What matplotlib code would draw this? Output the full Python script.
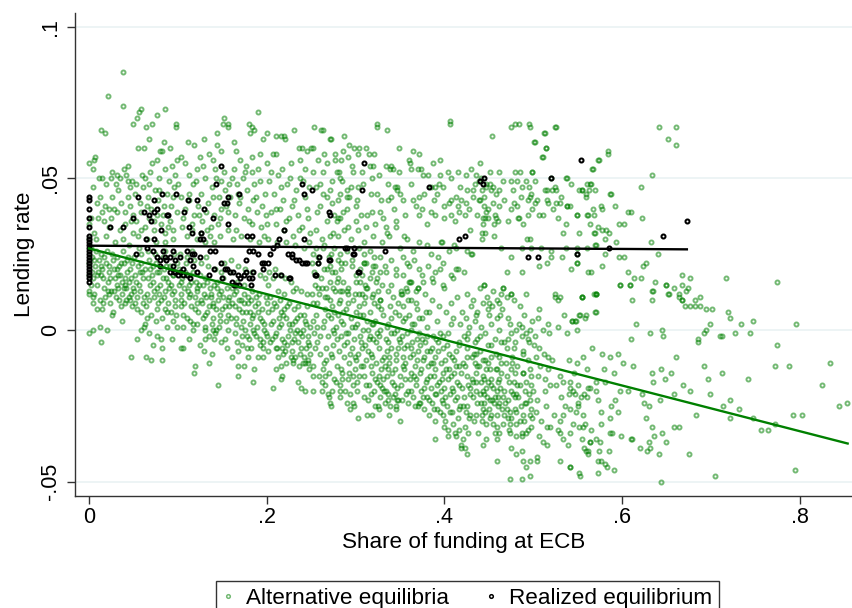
import matplotlib
matplotlib.use("Agg")
import matplotlib.pyplot as plt
from matplotlib.lines import Line2D

plt.rcParams['font.family'] = ['Liberation Sans', 'DejaVu Sans']

# values, in thousandths: (share of funding at ECB, lending rate)
alt_left = [
    (38, 85), (21, 77), (38, 74), (14, 66), (18, 65), (49, 68), (0, 55), (6, 56), (7, 57), (11, 50), (19, 48),
    (26, 52), (25, 50), (39, 53), (44, 54), (35, 50), (44, 49), (48, 49), (46, 47), (15, 50), (31, 51), (4, 53),
    (18, 41), (28, 40), (10, 37), (2, 37), (15, 39), (26, 44), (25, 37), (22, 34), (6, 32), (31, 39), (41, 39),
    (46, 41), (44, 44), (49, 38), (40, 35), (49, 32), (35, 33), (12, 44), (33, 46), (8, 30), (19, 31), (29, 29),
    (38, 30), (45, 28),
    (3, 24), (7, 21), (11, 23), (15, 20), (19, 22), (23, 19), (27, 23), (31, 20), (35, 18), (39, 22), (43, 19),
    (47, 17), (5, 17), (9, 15), (13, 18), (17, 14), (21, 16), (25, 13), (29, 17), (33, 14), (37, 12), (41, 15),
    (45, 11), (49, 14), (2, 27), (8, 26), (14, 25), (20, 26), (26, 25), (32, 24), (38, 26), (44, 24), (48, 22),
    (6, 12), (12, 10), (18, 11), (24, 9), (30, 11), (36, 8), (42, 10), (48, 8), (10, 19), (22, 21), (34, 21),
    (46, 20), (16, 17), (28, 13), (40, 17),
    (0, 13), (0, 12), (4, 9), (15, 7), (0, -1), (5, 0), (12, 1), (20, 0), (14, -4), (34, 10), (41, 9), (46, 10),
    (26, 5), (37, 3), (0, 22), (0, 30), (0, 35), (0, 18),
    # 0.05 - 0.10
    (58, 73), (56, 72), (86, 73), (54, 70), (64, 67), (71, 68), (76, 71), (98, 67), (98, 68), (55, 60), (62, 60),
    (63, 50), (71, 55), (76, 56), (80, 59), (82, 59), (86, 53), (93, 54), (99, 56),
    (52, 45), (57, 42), (61, 47), (66, 44), (70, 40), (74, 46), (78, 43), (83, 38), (88, 45), (92, 41), (96, 47),
    (53, 36), (58, 39), (63, 34), (68, 37), (73, 33), (77, 38), (81, 35), (86, 32), (91, 36), (95, 33), (99, 39),
    (55, 31), (65, 30), (75, 29), (85, 29), (94, 30), (60, 51), (68, 48), (79, 50), (90, 49), (97, 51), (84, 62),
    (67, 63), (91, 60),
    (51, 24), (55, 21), (59, 25), (63, 20), (67, 23), (71, 18), (75, 22), (79, 19), (83, 24), (87, 17), (91, 21),
    (95, 18), (99, 22), (53, 16), (57, 13), (61, 17), (65, 12), (69, 15), (73, 11), (77, 14), (81, 10), (85, 13),
    (89, 9), (93, 12), (97, 8), (52, 9), (58, 6), (64, 8), (70, 5), (76, 7), (82, 4), (88, 6), (94, 3), (98, 5),
    (56, 27), (66, 26), (74, 25), (86, 26), (96, 25), (60, 19), (72, 16), (84, 20), (92, 15), (54, 11), (78, 9),
    (54, -3), (47, -9), (64, -9), (70, -10), (82, -10), (63, 2), (62, 1), (68, -1), (76, -2), (81, -3), (93, -3),
    (82, -6), (58, 0), (88, 1), (72, -5),
    # 0.10 - 0.15
    (152, 70), (151, 68), (144, 65), (144, 61), (148, 59), (108, 55), (118, 61), (104, 57), (112, 51), (117, 48),
    (121, 53), (126, 45), (130, 50), (134, 42), (138, 47), (142, 53), (146, 44), (149, 49), (103, 44), (108, 40),
    (113, 43), (118, 38), (123, 41), (127, 36), (132, 39), (137, 34), (141, 38), (145, 35), (149, 40), (105, 34),
    (110, 31), (116, 33), (121, 30), (126, 32), (131, 29), (136, 31), (141, 29), (147, 31), (111, 62), (125, 57),
    (135, 58), (129, 63), (140, 56),
    (101, 20), (105, 17), (109, 22), (113, 15), (117, 19), (121, 14), (125, 18), (129, 12), (133, 16), (137, 11),
    (141, 15), (145, 10), (149, 13), (103, 12), (107, 9), (111, 13), (115, 8), (119, 11), (123, 6), (127, 9),
    (131, 5), (135, 8), (139, 4), (143, 7), (147, 3), (102, 25), (110, 24), (118, 23), (126, 22), (134, 21),
    (142, 20), (148, 19), (106, 5), (114, 3), (122, 2), (130, 1), (138, 2), (146, 1), (104, 16), (112, 18),
    (120, 16), (128, 15), (136, 14), (144, 16), (116, 26), (132, 24),
    (104, -6), (106, -6), (106, 1), (117, 0), (131, 0), (119, -12), (118, -14), (129, -7), (131, -3), (135, -11),
    (145, -18), (140, 0), (142, -1), (141, -3), (149, -4), (112, -3), (125, -5), (138, -8),
    # 0.15 - 0.20
    (157, 68), (156, 67), (180, 68), (184, 67), (190, 72), (186, 66), (177, 54), (183, 57), (166, 59), (181, 65),
    (196, 63), (200, 65), (163, 62), (170, 56), (192, 58),
    (152, 52), (158, 48), (163, 53), (168, 45), (173, 50), (178, 46), (183, 52), (188, 44), (193, 49), (198, 45),
    (154, 41), (159, 44), (164, 38), (169, 42), (174, 37), (179, 40), (184, 35), (189, 39), (194, 34), (199, 38),
    (156, 33), (162, 30), (171, 31), (181, 30), (191, 29), (197, 31), (167, 48), (186, 48),
    (151, 17), (155, 14), (159, 19), (163, 12), (167, 16), (171, 10), (175, 15), (179, 9), (183, 13), (187, 8),
    (191, 12), (195, 7), (199, 11), (153, 8), (157, 5), (161, 9), (165, 4), (169, 7), (173, 3), (177, 6),
    (181, 2), (185, 5), (189, 1), (193, 4), (197, 0), (152, 22), (160, 23), (168, 21), (176, 20), (184, 19),
    (192, 18), (198, 17), (156, 0), (164, -1), (172, -2), (180, -3), (188, -2), (196, -4), (158, 11), (166, 13),
    (174, 12), (182, 10), (190, 9),
    (161, -9), (168, -7), (168, -12), (168, -15), (185, -17), (179, -9), (190, -9), (196, -9), (172, -5),
    (178, -6), (182, -6), (196, -6), (155, -6), (175, -12), (186, -13),
    # 0.20 - 0.25
    (211, 64), (231, 66), (220, 64), (207, 58), (211, 58), (216, 64), (221, 63), (236, 60), (240, 60), (245, 59),
    (250, 60), (200, 55), (227, 55), (243, 53), (253, 67), (263, 66), (261, 66),
    (203, 49), (208, 45), (213, 51), (218, 43), (223, 48), (228, 41), (233, 46), (238, 50), (243, 44), (248, 47),
    (205, 39), (210, 35), (215, 40), (220, 33), (225, 37), (230, 31), (235, 38), (240, 34), (245, 40), (249, 32),
    (202, 30), (212, 29), (222, 29), (232, 28), (242, 27), (248, 29), (217, 53), (237, 56),
    (201, 15), (204, 11), (207, 17), (210, 8), (213, 13), (216, 6), (219, 12), (222, 4), (225, 9), (228, 2),
    (231, 7), (234, 0), (237, 5), (240, -2), (243, 3), (246, -4), (249, 1), (202, 6), (205, 2), (208, 9),
    (211, -1), (214, 4), (217, -3), (220, 7), (223, -5), (226, 0), (229, -7), (232, 3), (235, -4), (238, -8),
    (241, 0), (244, -6), (247, -10), (203, 19), (209, 20), (215, 18), (221, 17), (227, 16), (233, 14), (239, 13),
    (245, 12), (206, -3), (212, -6), (218, -8), (224, -2), (230, -10), (236, -12), (242, -9), (248, -13),
    (200, -2), (215, 10), (230, 13), (245, 8),
    (207, -19), (211, -13), (216, -12), (217, -15), (216, -16), (222, -11), (230, -11), (232, -9), (235, -17),
    (239, -19), (243, -20), (243, -11), (246, -11), (217, -6),
]

alt_left_extra = [
    (3, 19), (6, 23), (9, 18), (13, 21), (17, 24), (21, 13), (24, 17), (28, 20), (31, 15), (36, 22), (39, 14),
    (43, 23), (47, 12), (52, 18), (56, 15), (59, 22), (62, 11), (66, 17), (69, 20), (73, 13), (76, 19), (80, 15),
    (84, 11), (87, 21), (90, 14), (94, 18), (97, 10), (101, 15), (104, 8), (108, 19), (112, 11), (115, 16),
    (119, 7), (122, 13), (126, 10), (130, 17), (133, 6), (137, 12), (140, 9), (144, 14), (147, 5), (151, 11),
    (154, 3), (158, 8), (161, 14), (165, 2), (169, 10), (172, 6), (176, 0), (179, 11), (183, 4), (186, -1),
    (190, 6), (193, -3), (197, 2), (200, 9), (204, -4), (207, 3), (211, -6), (214, 1), (218, 5), (221, -7),
    (225, 2), (228, -4), (232, -1), (235, 8), (239, -6), (242, 5), (246, -2), (249, -8),
    (2, 15), (5, 11), (9, 7), (16, 9), (23, 12), (27, 6), (33, 18), (37, 16), (42, 14), (45, 16), (51, 13),
    (54, 7), (57, 19), (61, 9), (65, 4), (68, 10), (72, 21), (75, 3), (79, 12), (83, 17), (86, 7), (89, 16),
    (92, 6), (96, 13), (99, 1), (103, 10), (107, 14), (110, 4), (114, 12), (117, 2), (121, 9), (124, 15),
    (128, 4), (132, 11), (135, -2), (139, 8), (143, 0), (146, 12), (150, 7), (153, -3), (157, 10), (160, 4),
    (164, 8), (167, -4), (171, 1), (174, 9), (178, -2), (181, 6), (185, 0), (188, 11), (192, -5), (195, 3),
    (199, -1), (202, -7), (206, 7), (209, -2), (213, -9), (216, 2), (220, -4), (223, 8), (227, -9), (231, -3),
    (234, 4), (238, -1), (241, -11), (244, 2), (248, -5),
    (5, 47), (9, 42), (17, 36), (23, 40), (30, 48), (36, 42), (42, 51), (47, 36), (53, 48), (59, 33), (65, 41),
    (69, 52), (73, 36), (79, 46), (84, 41), (89, 34), (95, 44), (100, 48), (106, 37), (112, 45), (116, 35),
    (120, 49), (124, 38), (128, 54), (133, 33), (139, 44), (143, 50), (147, 37), (153, 46), (157, 39), (161, 50),
    (165, 33), (170, 44), (176, 52), (180, 36), (185, 43), (190, 53), (195, 41), (200, 35), (205, 52), (211, 40),
    (216, 47), (222, 36), (226, 50), (231, 43), (236, 33), (241, 49), (246, 37),
]

alt_mid = [
    # upper band
    (324, 68), (324, 67), (335, 66), (406, 68), (406, 69), (349, 60), (293, 61), (298, 60), (304, 60), (312, 60),
    (286, 59), (277, 58), (277, 56), (284, 56), (292, 57), (303, 58), (315, 58), (321, 58), (272, 63), (365, 59),
    (371, 58), (361, 55), (360, 56), (387, 55), (395, 56), (316, 54), (320, 54), (326, 51), (334, 54), (340, 54),
    (349, 52), (339, 53), (342, 53), (279, 52), (281, 52), (297, 52), (307, 52), (363, 53), (370, 53), (374, 53),
    (382, 51), (395, 51), (404, 52), (415, 52), (424, 51), (430, 53), (436, 51), (440, 55), (439, 49), (441, 50),
    (451, 48), (447, 48), (455, 47), (462, 52), (466, 49), (475, 49), (479, 52), (485, 52), (482, 49), (492, 49),
    (499, 52), (498, 45), (487, 47), (495, 47), (271, 46), (290, 46), (290, 44), (295, 47), (293, 44), (283, 45),
    (280, 43), (303, 47), (317, 45), (329, 43), (337, 43), (340, 44), (344, 47), (347, 47), (347, 46), (354, 43),
    (365, 43), (372, 44), (377, 45), (385, 47), (389, 47), (392, 45), (398, 47), (405, 42), (408, 43), (413, 44),
    (419, 43), (425, 46), (432, 46), (432, 44), (442, 46), (445, 44), (447, 47), (453, 46), (458, 45), (440, 43),
    (445, 41), (455, 42), (462, 41), (449, 40), (457, 38), (475, 40), (478, 42), (486, 44), (496, 44),
    (483, 37), (484, 37), (494, 38), (496, 30), (493, 30), (271, 31), (280, 31), (286, 39), (280, 37), (282, 37),
    (301, 41), (306, 38), (319, 39), (327, 39), (312, 34), (322, 35), (334, 34), (346, 34), (345, 36), (355, 31),
    (335, 32), (372, 38), (375, 40), (385, 39), (390, 38), (400, 37), (407, 38), (415, 41), (417, 39), (423, 38),
    (428, 40), (437, 38), (444, 37), (447, 39), (449, 37), (458, 37), (460, 36), (443, 35), (446, 32), (442, 32),
    (442, 30), (456, 31), (380, 28), (396, 29), (397, 29), (430, 25), (431, 25), (425, 26), (413, 27), (411, 28),
    (464, 27), (475, 24), (487, 27), (498, 27), (395, 20), (413, 20), (422, 19), (410, 17), (445, 15), (464, 12),
    (466, 14), (475, 12), (470, 19), (487, 19), (376, 16), (387, 16), (398, 15), (361, 16), (358, 13), (368, 13),
    (370, 14), (340, 15), (351, 13), (352, 12), (454, 64), (475, 67), (480, 68), (484, 68), (495, 68), (496, 67),
    (255, 33), (262, 30), (268, 36), (275, 32), (287, 33), (295, 30), (303, 33), (310, 29), (320, 31), (330, 29),
    (338, 31), (350, 27), (358, 30), (365, 26), (372, 29), (385, 25), (393, 24), (405, 26), (260, 41), (268, 44),
    (276, 38), (290, 40), (255, 47), (263, 52), (273, 49), (282, 50), (258, 56), (265, 58), (271, 63), (287, 64),
    (252, 60), (260, 48), (300, 36),
    (252, 25), (258, 22), (263, 27), (270, 24), (276, 27), (284, 20), (290, 26), (296, 23), (304, 27), (310, 22),
    (316, 26), (322, 21), (328, 24), (334, 19), (340, 23), (346, 20), (354, 24), (360, 21), (366, 23), (375, 18),
    (382, 21), (390, 19), (398, 22), (408, 18), (415, 20), (360, 16),
    (271, 21), (277, 19), (280, 17), (286, 16), (275, 14), (282, 13), (292, 14), (299, 12), (307, 12), (312, 14),
    (320, 12), (325, 13), (327, 10), (305, 16), (316, 17), (323, 16), (284, 22), (310, 22), (320, 21), (327, 19),
    (425, 12), (432, 10), (440, 14), (448, 11), (455, 13), (462, 9), (478, 10), (485, 8), (492, 12), (420, 6),
    (436, 5),
    # dense lower band
    (251, 22), (255, 18), (258, 24), (262, 14), (265, 20), (268, 11), (271, 16), (274, 8), (277, 13), (280, 5),
    (283, 10), (286, 2), (289, 7), (292, -1), (295, 4), (298, -3), (252, 9), (256, 5), (259, 12), (263, 1),
    (266, 7), (269, -2), (272, 4), (275, -5), (278, 1), (281, -7), (284, -2), (287, -9), (290, -4), (293, -11),
    (296, -6), (299, -13), (253, -1), (257, -4), (260, -8), (264, -11), (267, -6), (270, -14), (273, -9),
    (276, -16), (279, -12), (282, -18), (285, -14), (288, -20), (291, -16), (294, -21), (297, -18), (254, 15),
    (261, 17), (267, 14), (273, 19), (279, 16), (285, 13), (291, 12), (297, 10), (256, 27), (264, 28), (272, 25),
    (280, 23), (288, 22), (296, 21), (300, 18), (259, -15), (266, -18), (274, -20), (282, -22), (290, -24),
    (298, -25), (262, -20), (270, -22), (284, -13), (294, -8), (257, 1), (286, 6), (265, 3), (276, -1), (299, 1),
    (252, 3), (268, 20), (283, 25), (269, -21), (271, -24), (272, -25), (266, -15), (252, -20), (252, -15),
    (252, -12), (282, -20), (303, -29), (294, -26), (297, -24),
    (301, 16), (304, 12), (307, 18), (310, 9), (313, 14), (316, 6), (319, 11), (322, 3), (325, 8), (328, 0),
    (331, 5), (334, -3), (337, 2), (340, -6), (343, -1), (346, -8), (349, -3), (302, 2), (305, -2), (308, 5),
    (311, -5), (314, 0), (317, -8), (320, -3), (323, -11), (326, -6), (329, -13), (332, -9), (335, -15),
    (338, -11), (341, -17), (344, -13), (347, -19), (350, -15), (303, -8), (306, -12), (309, -15), (312, -10),
    (315, -18), (318, -14), (321, -20), (324, -17), (327, -22), (330, -19), (333, -24), (336, -21), (339, -25),
    (342, -22), (345, -26), (348, -23), (305, 20), (312, 22), (318, 19), (324, 17), (330, 15), (336, 13),
    (342, 11), (348, 9), (309, 25), (321, 24), (333, 21), (345, 18), (302, -20), (314, -23), (326, -26),
    (338, -28), (350, -30), (313, -28), (318, -28), (322, -25), (325, -25), (337, -23), (345, -25), (352, -23),
    (304, 8), (316, -2), (328, 10), (340, 4), (311, 15), (335, -7), (347, 0), (307, -6), (319, 2), (331, -16),
    (351, 12), (354, 8), (357, 14), (360, 5), (363, 10), (366, 2), (369, 7), (372, -1), (375, 4), (378, -4),
    (381, 1), (384, -7), (387, -2), (390, -9), (393, -4), (396, -11), (399, -6), (402, -13), (405, -8),
    (408, -15), (411, -10), (414, -17), (417, -12), (420, -19), (352, -2), (355, -6), (358, -1), (361, -9),
    (364, -4), (367, -12), (370, -7), (373, -14), (376, -10), (379, -17), (382, -12), (385, -19), (388, -15),
    (391, -21), (394, -17), (397, -23), (400, -19), (403, -25), (406, -21), (409, -27), (412, -23), (415, -29),
    (418, -25), (353, -12), (356, -16), (359, -20), (362, -14), (365, -22), (368, -18), (371, -24), (374, -20),
    (377, -26), (380, -22), (383, -28), (386, -24), (389, -30), (392, -26), (395, -27), (399, -28), (401, -30),
    (404, -33), (410, -31), (416, -33), (354, 18), (362, 16), (370, 14), (378, 12), (386, 10), (394, 8),
    (402, 6), (410, 4), (418, 2), (358, 22), (372, 20), (386, 17), (400, 14), (414, 11), (367, -25), (370, -25),
    (390, -36), (400, -32), (404, -35), (412, -34), (413, -35), (419, -39), (421, -36), (356, 4), (368, 9),
    (380, -7), (392, 3), (404, -1), (416, -5), (363, -6), (375, -3), (387, -11), (398, -2), (411, -14),
    (359, 10), (383, 6), (407, 9),
    (422, -2), (425, -6), (428, 1), (431, -9), (434, -4), (437, -12), (440, -7), (443, -15), (446, -10),
    (449, -17), (452, -5), (455, -19), (458, -8), (461, -16), (464, -11), (467, -20), (470, -6), (473, -17),
    (476, -9), (479, -22), (482, -12), (485, -18), (488, -7), (491, -20), (494, -10), (497, -26), (423, -12),
    (427, -18), (432, -22), (436, -14), (441, -24), (445, -16), (450, -26), (454, -23), (459, -28), (463, -19),
    (468, -24), (472, -29), (477, -21), (481, -31), (486, -25), (490, -30), (495, -21), (499, -29), (424, 4),
    (430, 8), (435, 3), (441, 1), (446, -1), (452, 2), (457, -3), (462, 0), (467, -4), (472, 4), (478, -6),
    (484, 2), (489, -8), (498, -15), (426, -25), (433, -30), (438, -34), (442, -30),
    (445, 15), (466, 14), (475, 12), (470, 11), (459, 10), (454, 8), (450, 9), (443, 9), (449, 7), (465, 7),
    (437, 6), (450, 5), (459, 4), (463, 5), (474, 2), (490, 5), (499, 3), (496, 0), (492, -1), (487, -2),
    (494, -3), (487, 1), (481, 0), (475, -1), (472, -3), (479, -4), (495, -4),
    (425, -9), (436, -8), (444, -10), (447, -13), (451, -13), (459, -13), (464, -14), (475, -13), (479, -14),
    (489, -14), (496, -13), (500, -20), (496, -23), (492, -24), (481, -21), (475, -20), (472, -23), (460, -22),
    (466, -22), (459, -20), (453, -16), (447, -19), (436, -17), (429, -21), (440, -21), (445, -21), (451, -23),
    (460, -25), (470, -26), (481, -27), (489, -28), (475, -29), (474, -31), (466, -31), (459, -32), (457, -34),
    (462, -34), (474, -34), (481, -35), (487, -34), (492, -34), (498, -32), (481, -41), (487, -40), (475, -39),
    (459, -36), (447, -36), (444, -38), (459, -43), (474, -49), (487, -49), (496, -48), (489, -43), (492, -45),
    (496, -43), (425, -41), (423, -39), (419, -38), (427, -34), (423, -32), (429, -28), (436, -28), (442, -28),
    (447, -31), (451, -29),
]

alt_mid_extra = [
    (251, 12), (254, -6), (257, 9), (260, -2), (263, -13), (266, 11), (269, 5), (272, -8), (275, 0), (278, -17),
    (281, 9), (284, 3), (287, -5), (290, 13), (293, -14), (296, 1), (299, -9), (302, -17), (305, 5), (308, -12),
    (311, 11), (314, -7), (317, -21), (320, 2), (323, -4), (326, -15), (329, 7), (332, -20), (335, 1), (338, -9),
    (341, -14), (344, 6), (347, -23), (350, -4), (353, 3), (356, -11), (359, -24), (362, 0), (365, -8),
    (368, -16), (371, 4), (374, -13), (377, -19), (380, -2), (383, -23), (386, -6), (389, -13), (392, -18),
    (395, -1), (398, -24), (401, -10), (404, -16), (407, 2), (410, -20), (413, -7), (416, -26), (419, -14),
    (422, -22), (425, -3), (428, -29), (431, -16), (434, -11), (437, -24), (440, -2), (443, -20), (446, -27),
    (449, -5), (452, -18), (455, -31), (458, -13), (461, -24), (464, -4), (467, -28), (470, -15), (473, -33),
    (476, -11), (479, -26), (482, -18), (485, -30), (488, -14), (491, -24), (494, -33), (497, -18),
    (253, 19), (258, 14), (262, -17), (267, -10), (271, 10), (276, 6), (279, -3), (285, -16), (289, -1),
    (292, 9), (297, -15), (301, 6), (306, -4), (309, -22), (313, 3), (317, -12), (321, 9), (324, -1), (328, -18),
    (333, -12), (336, -4), (339, 8), (343, -18), (346, -10), (349, 5), (354, -9), (357, -21), (361, -16),
    (364, 2), (369, -10), (373, -5), (376, -22), (379, 6), (384, -15), (388, -26), (391, -3), (396, -20),
    (399, -14), (403, -5), (406, -27), (409, -9), (414, -22), (417, -18), (421, -11), (424, -27), (427, -1),
    (432, -17), (436, -20), (439, -12), (444, -26), (448, -22), (453, -9), (456, -24), (460, -17), (465, -26),
    (469, -11), (474, -27), (478, -17), (483, -22), (487, -35), (492, -17), (496, -28),
    (300, -10), (304, -15), (308, 0), (312, -18), (315, -3), (319, -9), (322, -16), (326, -2), (330, -10),
    (334, -20), (337, -13), (340, -1), (344, -21), (348, -6), (351, -18), (355, -13), (358, -5), (362, -20),
    (366, -15), (369, -3), (373, -24), (377, -9), (381, -16), (385, -11), (389, -21), (393, -7), (397, -16),
    (401, -22), (405, -13), (409, -19), (413, -12), (417, -4), (421, -25), (425, -15), (429, -19), (433, -8),
    (437, -3), (441, -17), (445, -24), (449, -11), (453, -28), (457, -22), (461, -9),
    (252, 52), (257, 39), (263, 45), (268, 55), (274, 42), (279, 36), (285, 49), (291, 34), (296, 54), (302, 43),
    (308, 48), (313, 38), (318, 50), (324, 45), (331, 37), (336, 48), (343, 40), (350, 45), (356, 38), (362, 48),
    (368, 41), (376, 51), (381, 35), (388, 43), (394, 48), (400, 41), (407, 50), (412, 36), (418, 47), (424, 42),
    (429, 33), (434, 48), (439, 43), (446, 37), (451, 52), (456, 35), (461, 46), (467, 43), (472, 36), (477, 46),
    (482, 41), (489, 35), (494, 43), (499, 40),
]

alt_right = [
    (525, 67), (512, 65), (501, 62), (514, 60), (510, 57), (520, 50), (537, 50), (543, 48), (555, 46), (561, 48),
    (565, 48), (566, 53), (573, 56), (516, 46), (521, 46), (526, 46), (502, 42), (504, 43), (513, 46), (515, 43),
    (517, 42), (522, 40), (526, 42), (530, 42), (538, 41), (542, 41), (507, 38), (511, 38), (528, 37), (549, 38),
    (561, 38), (568, 38), (552, 46), (563, 46), (570, 46), (573, 34), (569, 32), (537, 35), (534, 32), (552, 32),
    (509, 27), (520, 26), (520, 24), (532, 24), (537, 27), (549, 27), (561, 27), (570, 28), (515, 22), (506, 21),
    (543, 20), (549, 22), (562, 19), (525, 11), (530, 11), (555, 11), (571, 12), (526, 67), (513, 65), (514, 60),
    (511, 57), (502, 62), (499, 52), (502, 49), (538, 50), (525, 47), (531, 44), (538, 41), (549, 38), (562, 38),
    (567, 40), (576, 41), (564, 35), (570, 32), (578, 33), (582, 33), (593, 29), (588, 45),
    (642, 67), (661, 67), (652, 63), (661, 61), (634, 51), (621, 47), (622, 37), (607, 39), (610, 39), (597, 35),
    (602, 35), (586, 45), (592, 41), (574, 56), (567, 53), (584, 59), (584, 58), (555, 46), (560, 45), (560, 44),
    (564, 48), (577, 40), (581, 30), (585, 32), (571, 28), (565, 19), (549, 22), (549, 25), (578, 21), (633, 29),
    (641, 25), (597, 24), (602, 24), (607, 19), (614, 17), (621, 17), (598, 15), (609, 15), (637, 16), (649, 15),
    (653, 12), (664, 12), (668, 18), (676, 17), (668, 15), (672, 13), (717, 17), (774, 16), (635, 13), (624, 21),
    (627, 22), (581, 25), (571, 12),
    (505, 4), (507, 7), (511, 0), (517, 2), (528, 1), (535, 5), (544, 3), (547, 3), (552, 5), (558, 4), (555, 11),
    (571, 12), (570, 6), (525, 12), (528, 10), (538, -1), (549, 0), (502, -2), (501, -5), (507, -6), (518, -1),
    (517, -9), (540, -10), (549, -11), (505, -15), (513, -16), (519, -18), (513, -20), (504, -23), (534, -28),
    (541, -26), (550, -25), (554, -22), (547, -21), (541, -19), (545, -20), (534, -17), (530, -15), (541, -17),
    (562, -19), (571, -17), (573, -23), (556, -28), (558, -31), (552, -32), (564, -37), (560, -40), (571, -36),
    (541, -34), (530, -34), (507, -35), (515, -32), (519, -32), (530, -30), (511, -37), (515, -38), (504, -42),
    (504, -43), (530, -43), (541, -45), (552, -47), (573, -43), (573, -47),
    (796, 2), (774, -5), (772, -12), (788, -12), (834, -11), (825, -18), (844, -25), (853, -24), (793, -28),
    (803, -28), (795, -46), (757, -33), (764, -33), (772, -31), (747, -29), (721, -29), (732, -26), (722, -23),
    (714, -25), (742, -16), (744, -1), (734, 2), (748, 3), (727, -1), (719, 6), (721, 4), (712, -2), (710, -2),
    (712, -14), (699, 2), (694, 0), (692, -1), (685, -3), (686, -4), (699, -21), (692, -12), (697, -16),
    (683, -28), (675, -41), (705, -48), (677, -20), (669, -18), (658, -21), (661, -9), (655, -14), (648, -16),
    (644, -13), (634, -14), (635, -17), (643, -23), (658, -32), (664, -32), (650, -37), (642, -41), (630, -37),
    (628, -40), (632, -39), (636, -35), (645, -34), (634, -32), (627, -29), (625, -24), (622, -21), (630, -25),
    (644, -50), (610, -36), (620, -39), (645, 0), (646, -2), (631, -1), (610, -3), (616, 2), (611, 10), (598, 15),
    (609, 15), (634, 13), (634, 10), (652, 12), (658, 14), (664, 11), (667, 10), (668, 10), (671, 8), (676, 8),
    (682, 10), (682, 8), (688, 8), (688, 11), (694, 7), (701, 7), (674, 14), (650, 15), (577, -8), (587, -9),
    (601, -11), (612, -12), (580, -13), (598, -20), (607, -20), (588, -25), (592, -23), (576, -31), (587, -34),
    (589, -34), (599, -35), (611, -36), (591, -46), (576, -43), (581, -44), (583, -45), (564, -37), (562, -40),
    (574, -40), (553, -48), (542, -45), (571, 6), (568, 12), (555, 11), (553, 5), (559, 5), (544, 3), (548, 3),
    (564, -19), (557, -21), (561, -22), (551, -24), (548, -27), (556, -32), (557, -39), (562, -41),
    (503, -9), (508, -12), (512, -8), (517, -13), (521, -10), (526, -18), (531, -22), (536, -25), (540, -21),
    (546, -14), (551, -18), (556, -9), (561, -13), (566, -6), (571, -20), (576, -27), (581, -17), (586, -29),
    (591, -14), (596, -8), (503, -27), (509, -30), (514, -25), (523, -28), (528, -33), (533, -36), (539, -38),
    (545, -31), (555, -36), (565, -33), (575, -37), (585, -40), (595, -27),
]

realized_pts = [
    (0, 44), (0, 43), (0, 40), (0, 37), (0, 34), (0, 31), (0, 30), (0, 29), (0, 28), (0, 27), (0, 26), (0, 25),
    (0, 24), (0, 23), (0, 22), (0, 21), (0, 20), (0, 19), (0, 18), (0, 17), (0, 16),
    (24, 34), (38, 34), (49, 37), (55, 44), (62, 39), (67, 38), (70, 36), (73, 39), (77, 40), (73, 43), (82, 45),
    (89, 38), (98, 45), (107, 39), (111, 43), (122, 43), (129, 40), (140, 37), (143, 48), (148, 54), (152, 42),
    (155, 42), (157, 44), (169, 45), (157, 35), (64, 30), (73, 30), (65, 27), (81, 33), (72, 26), (83, 26),
    (77, 24), (80, 23), (88, 38), (94, 26), (97, 23), (87, 23), (91, 24), (102, 24), (110, 26), (114, 23),
    (116, 25), (118, 25), (125, 24), (113, 34), (116, 32), (125, 30), (126, 32), (128, 30), (136, 26), (142, 26),
    (149, 22), (117, 21), (106, 20), (96, 19), (91, 19), (100, 18), (110, 18), (114, 17), (122, 19), (80, 21),
    (135, 18), (141, 20), (150, 17), (155, 20), (159, 19), (162, 19), (168, 18), (170, 17), (174, 18), (177, 19),
    (180, 17), (183, 17), (182, 15), (166, 15), (169, 15), (161, 16), (177, 23), (180, 26), (185, 26), (184, 31),
    (178, 31), (190, 25), (195, 22), (197, 22), (202, 22), (207, 27), (212, 28), (214, 30), (219, 33), (216, 18),
    (225, 17), (224, 25), (228, 24), (233, 23), (236, 23), (240, 22), (245, 22), (242, 30), (240, 48), (242, 45),
    (251, 46), (259, 24), (270, 23), (270, 39), (256, 18), (290, 27), (298, 27), (298, 25), (303, 19), (307, 46),
    (310, 55), (333, 26), (383, 47), (53, 25), (86, 24), (95, 21), (97, 19), (102, 19), (106, 18), (153, 20),
    (163, 15), (185, 19), (196, 20), (204, 25), (209, 18), (226, 17), (229, 25), (243, 22), (254, 18), (258, 22),
    (271, 38), (271, 23), (288, 27), (297, 25), (304, 19), (417, 30), (423, 31), (440, 49), (445, 50), (443, 48),
    (520, 50), (554, 56), (494, 24), (505, 24), (549, 25), (673, 36), (646, 31), (585, 27),
]

# fitted lines, end points
fit_alt_x = [0.0, 0.854]
fit_alt_y = [0.0269, -0.0374]
fit_real_x = [0.0, 0.673]
fit_real_y = [0.0278, 0.0266]

xticks = [0, 0.2, 0.4, 0.6, 0.8]
xtick_labels = ['0', '.2', '.4', '.6', '.8']
yticks = [-0.05, 0, 0.05, 0.1]
ytick_labels = ['-.05', '0', '.05', '.1']

alt = alt_left + alt_left_extra + alt_mid + alt_mid_extra + alt_right
alt_x = [p[0] / 1000 for p in alt]
alt_y = [p[1] / 1000 for p in alt]
real_x = [p[0] / 1000 for p in realized_pts]
real_y = [p[1] / 1000 for p in realized_pts]

green = '#008000'
fig = plt.figure(figsize=(8.52, 6.08), dpi=100)
ax = fig.add_axes([75 / 852, 1 - 496 / 608, 777 / 852, 483 / 608])

for y in yticks:
    ax.axhline(y, color='#eaf2f3', lw=1.2, zorder=0)

ax.plot(alt_x, alt_y, 'o', ls='none', ms=2.9, mfc='none', mec=green, mew=1.4, alpha=0.55, zorder=2)
ax.plot(real_x, real_y, 'o', ls='none', ms=2.9, mfc='none', mec='black', mew=1.45, zorder=3)
ax.plot(fit_alt_x, fit_alt_y, color='#008000', lw=1.7, zorder=4)
ax.plot(fit_real_x, fit_real_y, color='black', lw=1.7, zorder=4)

ax.set_xlim(-0.0158, 0.8589)
ax.set_ylim(-0.0547, 0.1045)
ax.set_xticks(xticks)
ax.set_xticklabels(xtick_labels)
ax.set_yticks(yticks)
ax.set_yticklabels(ytick_labels, rotation=90, va='center')
ax.tick_params(axis='both', direction='out', length=6, width=1, color='#333333', labelsize=15.5)
ax.tick_params(axis='x', pad=2)
ax.tick_params(axis='y', pad=4)
for side in ['top', 'right']:
    ax.spines[side].set_visible(False)
for side in ['left', 'bottom']:
    ax.spines[side].set_color('#333333')
    ax.spines[side].set_linewidth(1)

ax.set_xlabel('Share of funding at ECB', fontsize=16.2, labelpad=3)
ax.set_ylabel('Lending rate', fontsize=16.2, labelpad=4)

handles = [
    Line2D([], [], marker='o', ls='none', ms=2.6, mfc='none', mec=green, mew=1.1, alpha=0.55),
    Line2D([], [], marker='o', ls='none', ms=2.6, mfc='none', mec='black', mew=1.1),
]
leg = fig.legend(handles, ['Alternative equilibria', 'Realized equilibrium'], loc='upper center',
                 bbox_to_anchor=(467.5 / 852, 1 - 570 / 608), ncol=2, fontsize=16.2, frameon=True,
                 fancybox=False, edgecolor='black', handlelength=0.5, handletextpad=0.55,
                 columnspacing=1.6, borderpad=0.3)
leg.get_frame().set_linewidth(1)

fig.savefig('out.png', dpi=100)
